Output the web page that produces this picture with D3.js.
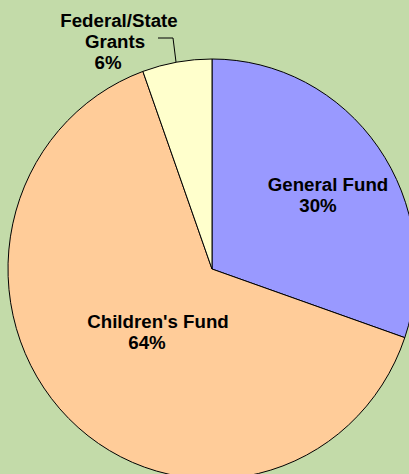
<!DOCTYPE html>
<html>
<head>
<meta charset="utf-8">
<script src="https://cdn.jsdelivr.net/npm/d3@7"></script>
<style>
  html, body { margin: 0; padding: 0; background: #C3DBA9; }
  svg { display: block; }
  text { font-family: "Liberation Sans", Arial, sans-serif; font-weight: bold; font-size: 18.7px; fill: #000; }
</style>
</head>
<body>
<svg id="chart" width="409" height="474"></svg>
<script>
// Data
const categories = ["General Fund", "Children's Fund", "Federal/State Grants"];
const values = [30.3, 64.2, 5.5];
const percentLabels = ["30%", "64%", "6%"];
const colors = ["#9999FF", "#FFCC99", "#FFFFCC"];

const W = 409, H = 474;
const cx = 212, cy = 269, rx = 204, ry = 210;

const svg = d3.select("#chart");
svg.append("rect").attr("width", W).attr("height", H).attr("fill", "#C3DBA9");

const pie = d3.pie().sort(null).value(d => d)(values);
const arc = d3.arc().innerRadius(0).outerRadius(ry);

const g = svg.append("g").attr("transform", `translate(${cx},${cy}) scale(${rx / ry},1)`);
g.selectAll("path").data(pie).join("path")
  .attr("d", arc)
  .attr("fill", (d, i) => colors[i])
  .attr("stroke", "#000")
  .attr("stroke-width", 1)
  .attr("vector-effect", "non-scaling-stroke");

// Label layout (lines with their own x, baseline y)
const labelLines = [
  [{ t: "General Fund", x: 328, y: 191 }, { t: percentLabels[0], x: 318, y: 212 }],
  [{ t: "Children's Fund", x: 158, y: 328 }, { t: percentLabels[1], x: 147, y: 349 }],
  [{ t: "Federal/State", x: 119, y: 27 }, { t: "Grants", x: 115, y: 48 }, { t: percentLabels[2], x: 108, y: 69 }]
];

labelLines.forEach(lines => {
  lines.forEach(l => {
    svg.append("text").attr("x", l.x).attr("y", l.y).attr("text-anchor", "middle").text(l.t);
  });
});

// Leader line for Federal/State Grants
svg.append("polyline")
  .attr("points", `158,38 173,38 176,62`)
  .attr("fill", "none")
  .attr("stroke", "#000")
  .attr("stroke-width", 1);
</script>
</body>
</html>
